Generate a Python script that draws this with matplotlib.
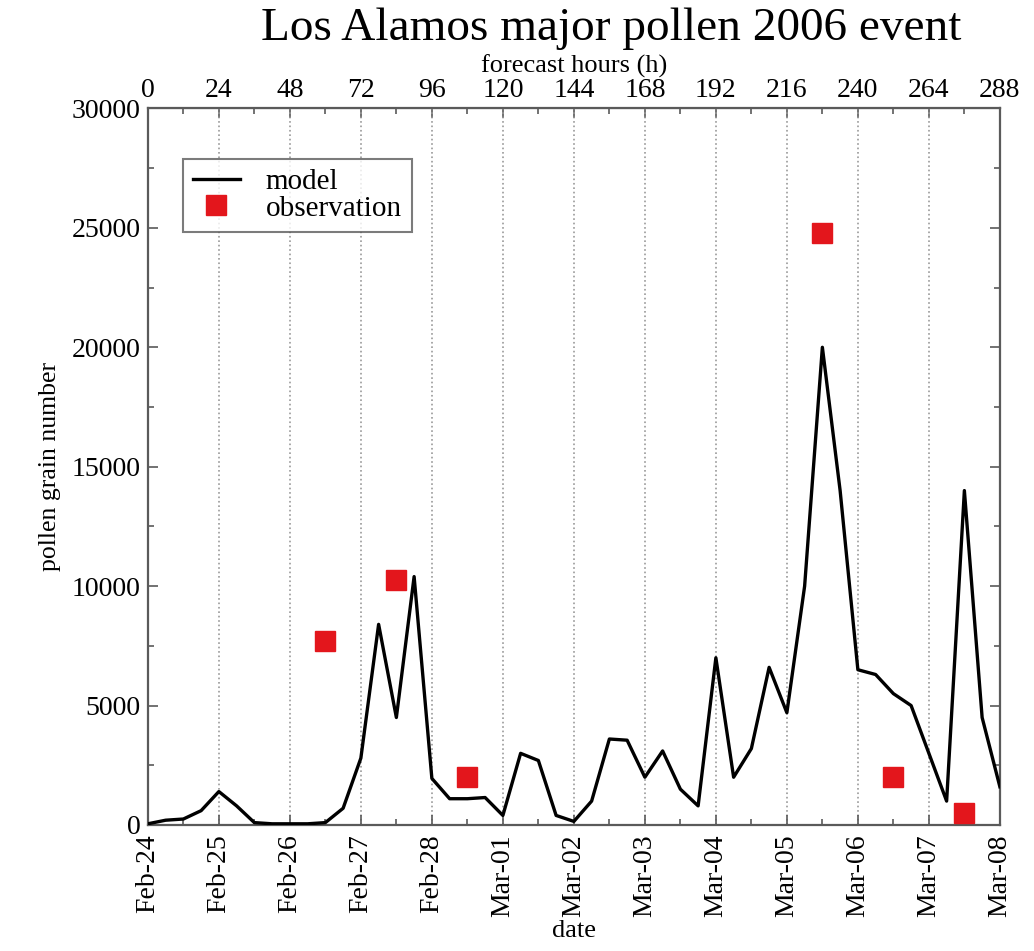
import matplotlib
matplotlib.use("Agg")
import matplotlib.pyplot as plt
from matplotlib.ticker import MultipleLocator

# ---- data ----
model_hours = list(range(0, 289, 6))
model_values = [50, 200, 250, 600, 1400, 800, 100, 50, 50, 50, 100, 700,
                2800, 8400, 4500, 10400, 1950, 1100, 1100, 1150, 400, 3000,
                2700, 400, 150, 1000, 3600, 3550, 2000, 3100, 1500, 800,
                7000, 2000, 3200, 6600, 4700, 10000, 20000, 14000, 6500,
                6300, 5500, 5000, 3000, 1000, 14000, 4500, 1600]
obs_hours = [60, 84, 108, 228, 252, 276]
obs_values = [7700, 10250, 2000, 24800, 2000, 500]
date_labels = ["Feb-24", "Feb-25", "Feb-26", "Feb-27", "Feb-28", "Mar-01",
               "Mar-02", "Mar-03", "Mar-04", "Mar-05", "Mar-06", "Mar-07",
               "Mar-08"]
hour_ticks = list(range(0, 289, 24))

plt.rcParams['font.family'] = ['Liberation Serif', 'DejaVu Serif']

fig = plt.figure(figsize=(10.34, 9.51), dpi=100)
ax = fig.add_axes([0.143, 0.1325, 0.824, 0.7535])

spine_col = '#5a5a5a'
ax.plot(model_hours, model_values, color='black', lw=2.4, label='model', zorder=3)
ax.plot(obs_hours, obs_values, linestyle='none', marker='s', markersize=14,
        color='#e3161c', markeredgecolor='#e3161c', label='observation', zorder=4)

ax.set_xlim(0, 288)
ax.set_ylim(0, 30000)
ax.set_xticks(hour_ticks)
ax.set_xticklabels(date_labels, rotation=90, fontsize=20)
ax.xaxis.set_minor_locator(MultipleLocator(12))
ax.yaxis.set_major_locator(MultipleLocator(5000))
ax.yaxis.set_minor_locator(MultipleLocator(2500))
ax.tick_params(axis='y', labelsize=20, pad=5)
ax.tick_params(axis='x', pad=7)
ax.tick_params(which='both', direction='in', top=False, right=True,
               color=spine_col, width=1.2)
ax.tick_params(which='major', length=7)
ax.tick_params(which='minor', length=4)
for s in ax.spines.values():
    s.set_color(spine_col)
    s.set_linewidth(1.6)

ax.grid(axis='x', which='major', linestyle=':', color='#999999', lw=1.2)

sec = ax.secondary_xaxis('top')
sec.set_xticks(hour_ticks)
sec.set_xticklabels([str(h) for h in hour_ticks], fontsize=20)
sec.xaxis.set_minor_locator(MultipleLocator(12))
sec.tick_params(which='both', direction='in', color=spine_col, width=1.2, pad=4)
sec.tick_params(which='major', length=7)
sec.tick_params(which='minor', length=4)
sec.spines['top'].set_color(spine_col)
sec.set_xlabel('forecast hours (h)', fontsize=19, labelpad=4)

ax.set_xlabel('date', fontsize=19, labelpad=2)
ax.set_ylabel('pollen grain number', fontsize=18.5, labelpad=8)
fig.suptitle('Los Alamos major pollen 2006 event', fontsize=34, x=0.591, y=0.992)

leg = ax.legend(loc='upper left', bbox_to_anchor=(0.041, 0.93), borderaxespad=0,
                fontsize=21, frameon=True, fancybox=False, handlelength=1.6,
                labelspacing=0.0, borderpad=0.35, handletextpad=0.9)
leg.get_frame().set_edgecolor(spine_col)
leg.get_frame().set_linewidth(1.5)

fig.savefig('out.png', dpi=100)
